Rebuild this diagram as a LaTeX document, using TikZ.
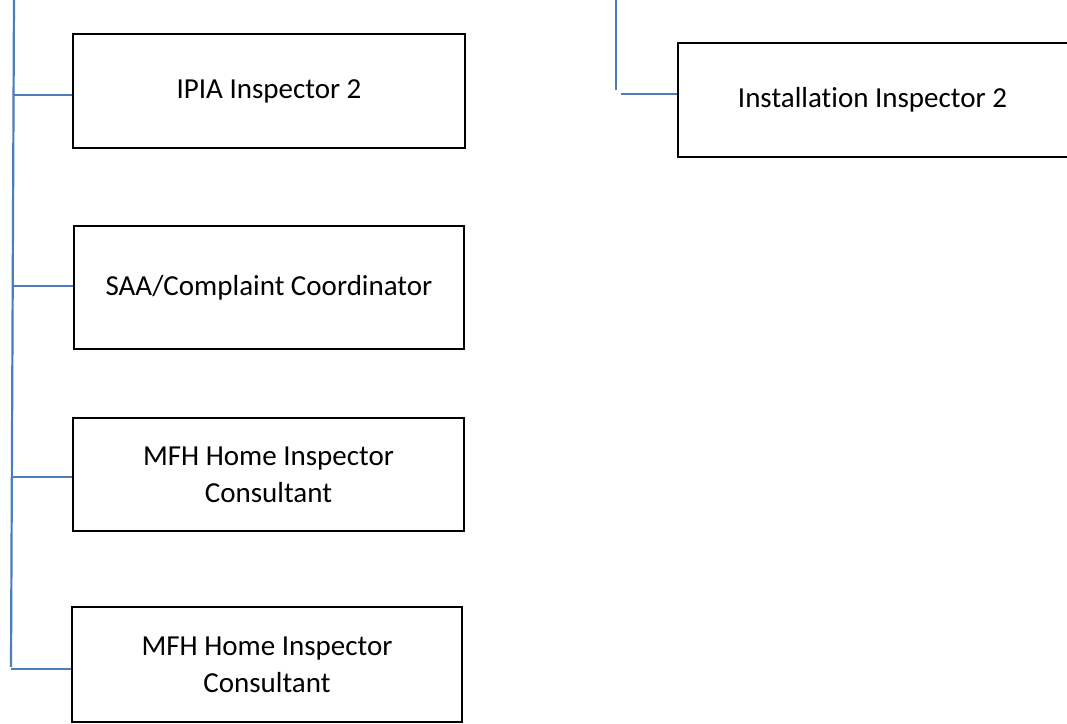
\documentclass[tikz,border=0pt]{standalone}
\usepackage{fontspec}
\setmainfont{Carlito}[Ligatures={NoCommon}]
\definecolor{conn}{HTML}{4A7EBB}
\begin{document}
\begin{tikzpicture}[x=1pt,y=-1pt,
  box/.style={draw=black,line width=2.6pt,minimum width=#1,inner sep=0pt,align=center,
    font=\fontsize{29}{37}\selectfont},
  box/.default=390pt,
  conn/.style={draw=conn,line width=2.2pt}]
\clip (0,0) rectangle (1067,723);
\useasboundingbox (0,0) rectangle (1067,723);
\node[box=392pt,minimum height=114pt] (b1) at (269,91) {IPIA Inspector 2};
\node[box=390pt,minimum height=123pt] (b2) at (269,287.5) {SAA/Complaint Coordinator};
\node[box=391pt,minimum height=113pt] (b3) at (268.5,474.5) {MFH Home Inspector\\Consultant};
\node[box=390pt,minimum height=115pt] (b4) at (267,664.5) {MFH Home Inspector\\Consultant};
\node[box=404pt,minimum height=114pt] (b5) at (880,100) {};
\node[font=\fontsize{29}{37}\selectfont,inner sep=0pt] (t5) at (872.5,100) {Installation Inspector 2};
\coordinate (ltop) at (14,-2);
\coordinate (lbot) at (11,667);
\draw[conn] (ltop) -- (lbot);
\coordinate (j1) at (14,95);
\coordinate (j2) at (13,286);
\coordinate (j3) at (12,477);
\coordinate (j4) at (11,669);
\draw[conn] (j1) -- (j1 -| b1.west);
\draw[conn] (j2) -- (j2 -| b2.west);
\draw[conn] (j3) -- (j3 -| b3.west);
\draw[conn] (j4) -- (j4 -| b4.west);
\coordinate (rtop) at (616,-2);
\coordinate (rbot) at (616,90);
\draw[conn] (rtop) -- (rbot);
\coordinate (rj) at (621,94);
\draw[conn] (rj) -- (rj -| b5.west);
\end{tikzpicture}
\end{document}
